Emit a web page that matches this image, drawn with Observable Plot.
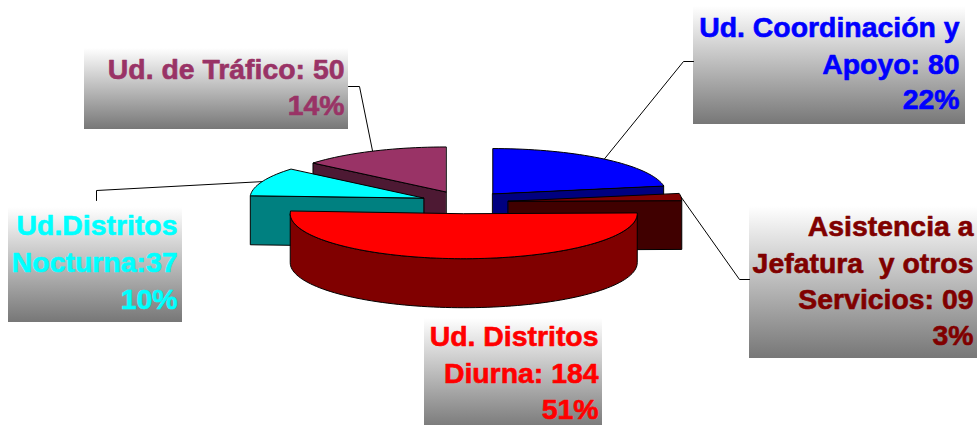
<!DOCTYPE html>
<html>
<head>
<meta charset="utf-8">
<style>
html,body{margin:0;padding:0;background:#fff}
svg{display:block}
</style>
<script src="https://cdn.jsdelivr.net/npm/d3@7"></script>
<script src="https://cdn.jsdelivr.net/npm/@observablehq/plot@0.6"></script>
</head>
<body>
<div id="chart"></div>
<script>
// Data
const categories = ["Ud. Coordinación y Apoyo", "Asistencia a Jefatura y otros Servicios", "Ud. Distritos Diurna", "Ud.Distritos Nocturna", "Ud. de Tráfico"];
const values = [80, 9, 184, 37, 50];
const labelLines = [
  ["Ud. Coordinación y", "Apoyo: 80", "22%"],
  ["Asistencia a", "Jefatura  y otros", "Servicios: 09", "3%"],
  ["Ud. Distritos", "Diurna: 184", "51%"],
  ["Ud.Distritos", "Nocturna:37", "10%"],
  ["Ud. de Tráfico: 50", "14%"]
];

// Styles
const topColors = ["#0000ff", "#800000", "#ff0000", "#00ffff", "#993366"];
const wallColors = ["#000080", "#400000", "#800000", "#008080", "#4d1933"];

// Layout of the pseudo-3D pie
const pie3d = {cx: 464, cy: 201.8, rx: 173.5, ry: 45, depth: 49, explode: 44};
const drawOrder = [4, 0, 3, 1, 2];
const boxes = [
  {x1: 693, x2: 965, y1: 6, y2: 124, right: 959, base: [36, 73, 108], elbow: [[683, 61], [693, 61]]},
  {x1: 749, x2: 980, y1: 206, y2: 358, right: 973, base: [235, 272, 308, 344], elbow: [[739, 279], [749, 279]]},
  {x1: 424, x2: 602, y1: 318, y2: 430, right: 598, base: [345, 382, 418], elbow: null},
  {x1: 8, x2: 182, y1: 207, y2: 322, right: 177, base: [234, 271, 308], elbow: [[96, 190], [96, 200]]},
  {x1: 84, x2: 348, y1: 48, y2: 129, right: 344, base: [78, 114], elbow: [[359, 86], [348, 86]]}
];

// Geometry derived from the values
const arcs = d3.pie().sort(null).value(d => d)(values);
const faces = [];
const leaders = [];
const step = Math.PI / 90;
function rim(c, a) {
  return [c[0] + pie3d.rx * Math.sin(a), c[1] - pie3d.ry * Math.cos(a)];
}
function addFace(id, fill, pts) {
  pts.forEach(p => faces.push({face: id, fill, x: p[0], y: p[1]}));
}
function sweep(c, a0, a1) {
  const n = Math.max(1, Math.ceil((a1 - a0) / step));
  return d3.range(n + 1).map(i => rim(c, a0 + (a1 - a0) * i / n));
}
const down = p => [p[0], p[1] + pie3d.depth];
drawOrder.forEach(i => {
  const {startAngle: a0, endAngle: a1} = arcs[i];
  const mid = (a0 + a1) / 2;
  const e = pie3d.explode;
  const c = [pie3d.cx + e * Math.sin(mid), pie3d.cy - e * (pie3d.ry / pie3d.rx) * Math.cos(mid)];
  const f0 = Math.max(a0, Math.PI / 2), f1 = Math.min(a1, 3 * Math.PI / 2);
  if (f1 > f0) {
    const front = sweep(c, f0, f1);
    addFace(`w${i}`, wallColors[i], [...front, ...front.slice().reverse().map(down)]);
  }
  if (Math.cos(a0 - Math.PI / 2) < -1e-6) {
    const p = rim(c, a0);
    addFace(`a${i}`, wallColors[i], [c, p, down(p), down(c)]);
  }
  if (Math.cos(a1 + Math.PI / 2) < -1e-6) {
    const p = rim(c, a1);
    addFace(`b${i}`, wallColors[i], [c, p, down(p), down(c)]);
  }
  addFace(`t${i}`, topColors[i], [c, ...sweep(c, a0, a1)]);
  if (boxes[i].elbow) {
    const pts = [rim(c, mid), ...boxes[i].elbow];
    pts.forEach(p => leaders.push({id: i, x: p[0], y: p[1]}));
  }
});

const labelRows = labelLines.flatMap((lines, i) =>
  lines.map((text, j) => ({text, x: boxes[i].right, y: boxes[i].base[j], color: topColors[i]}))
);

const chart = Plot.plot({
  width: 977,
  height: 425,
  margin: 0,
  x: {domain: [0, 977], range: [0, 977], axis: null},
  y: {domain: [0, 425], range: [0, 425], axis: null},
  color: {type: "identity"},
  style: {background: "#fff", overflow: "hidden"},
  marks: [
    () => {
      const defs = d3.create("svg:defs");
      const g = defs.append("linearGradient").attr("id", "boxGrad")
        .attr("x1", 0).attr("y1", 0).attr("x2", 0).attr("y2", 1);
      g.append("stop").attr("offset", "0%").attr("stop-color", "#ffffff");
      g.append("stop").attr("offset", "100%").attr("stop-color", "#777777");
      return defs.node();
    },
    Plot.rect(boxes, {x1: "x1", x2: "x2", y1: "y1", y2: "y2", fill: "url(#boxGrad)", inset: 0}),
    Plot.line(leaders, {x: "x", y: "y", z: "id", stroke: "#000", strokeWidth: 1, curve: "linear"}),
    Plot.line(faces, {x: "x", y: "y", z: "face", fill: "fill", stroke: "#000", strokeWidth: 1, strokeLinejoin: "round", curve: "linear-closed"}),
    Plot.text(labelRows, {
      x: "x", y: "y", text: "text", fill: "color", stroke: "color", strokeWidth: 0.6, textAnchor: "end", lineAnchor: "bottom",
      fontFamily: "Liberation Sans", fontWeight: "bold", fontSize: 28.4
    })
  ]
});
document.getElementById("chart").appendChild(chart);
</script>
</body>
</html>
